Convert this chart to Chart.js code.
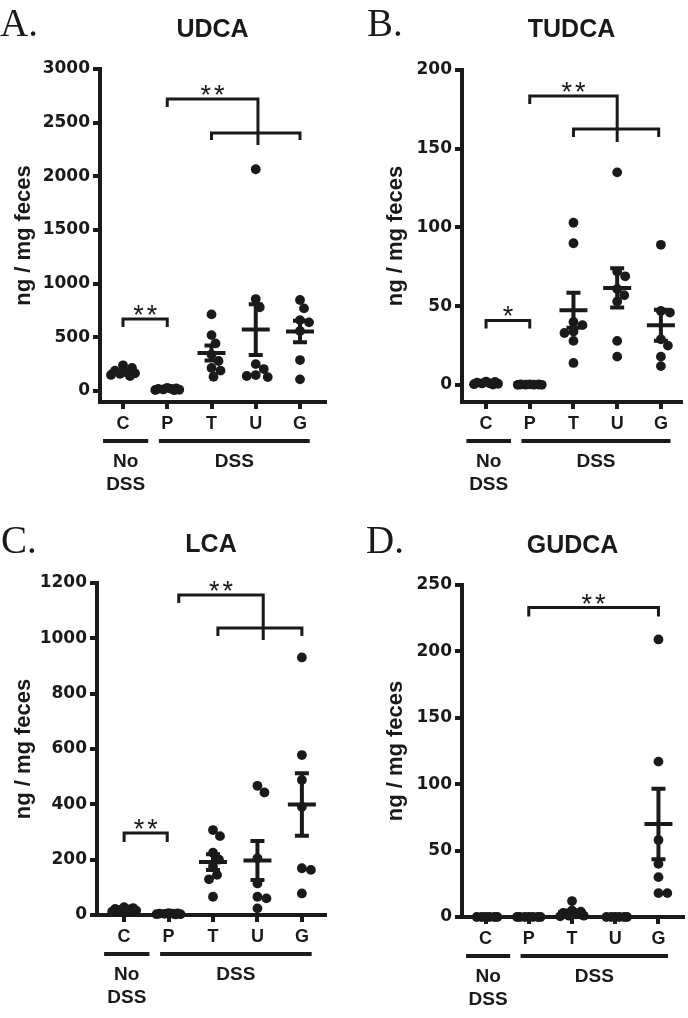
<!DOCTYPE html>
<html>
<head>
<meta charset="utf-8">
<script src="https://cdn.jsdelivr.net/npm/chart.js@4.4.0/dist/chart.umd.min.js"></script>
<style>
  html, body { margin: 0; padding: 0; background: #fff; }
  #fig { position: relative; width: 688px; height: 1018px; overflow: hidden; }
  #fig canvas { position: absolute; }
  .letter { position: absolute; font-family: 'Liberation Serif', 'Times New Roman', serif; font-size: 39px; line-height: 39px; color: #1a1a1a; }
</style>
</head>
<body>
<div id="fig">
  <canvas id="chartA" width="344" height="500" style="left:0;top:0"></canvas>
  <canvas id="chartB" width="344" height="500" style="left:344px;top:0"></canvas>
  <canvas id="chartC" width="344" height="518" style="left:0;top:500px"></canvas>
  <canvas id="chartD" width="344" height="518" style="left:344px;top:500px"></canvas>
  <div class="letter" style="left:0;top:3px">A.</div>
  <div class="letter" style="left:367px;top:3px">B.</div>
  <div class="letter" style="left:1px;top:520px">C.</div>
  <div class="letter" style="left:366px;top:520px">D.</div>
</div>
<script>
const ink = '#1a1a1a';
const categories = ['C', 'P', 'T', 'U', 'G'];

// UDCA (ng / mg feces)
const udcaC = [240, 215, 190, 175, 165, 160, 150, 140];
const udcaP = [30, 25, 20, 20, 15, 12, 10, 8];
const udcaT = [714, 521, 444, 340, 280, 215, 190, 133];
const udcaU = [2066, 857, 780, 251, 205, 149, 140, 130];
const udcaG = [848, 770, 661, 640, 560, 289, 109];
const udcaTicks = [0, 500, 1000, 1500, 2000, 2500, 3000];

// TUDCA
const tudcaC = [2.2, 2, 1.5, 1, 1, 0.8, 0.5, 0.3];
const tudcaP = [0.4, 0.3, 0.3, 0.2, 0.2, 0.1, 0.1];
const tudcaT = [103, 90, 40, 38, 34, 33, 28, 14];
const tudcaU = [135, 72, 69, 61, 57, 53, 28, 18];
const tudcaG = [89, 47, 46, 29, 25, 18, 12];
const tudcaTicks = [0, 50, 100, 150, 200];

// LCA
const lcaC = [28, 25, 22, 20, 18, 16, 15, 12];
const lcaP = [7, 6, 5, 5, 4, 3, 3, 2];
const lcaT = [307, 285, 225, 200, 175, 145, 129, 66];
const lcaU = [467, 443, 205, 114, 66, 60, 24];
const lcaG = [931, 578, 488, 391, 169, 163, 78];
const lcaTicks = [0, 200, 400, 600, 800, 1000, 1200];

// GUDCA
const gudcaC = [0, 0, 0, 0, 0, 0];
const gudcaP = [0, 0, 0, 0, 0, 0, 0];
const gudcaT = [12, 5, 4, 3, 2, 1, 1, 0.5];
const gudcaU = [0, 0, 0, 0, 0, 0];
const gudcaG = [209, 117, 58, 40, 30, 18, 18];
const gudcaTicks = [0, 50, 100, 150, 200, 250];

// group bars under the axis (No DSS / DSS)
const groupNames = [['No', 'DSS'], ['DSS']];
const groupSpans = [[0.55, 1.57], [1.81, 5.22]];

function mean(a) { return a.reduce((s, v) => s + v, 0) / a.length; }
function sem(a) {
  const m = mean(a);
  const sd = Math.sqrt(a.reduce((s, v) => s + (v - m) * (v - m), 0) / (a.length - 1));
  return sd / Math.sqrt(a.length);
}

// simple beeswarm: horizontal offsets (category units) so dots don't stack
function swarmOffsets(values, pxPerUnit, pxPerCat) {
  const minDist = 9, cap = 12;
  const order = values.map((v, i) => i).sort((a, b) => values[b] - values[a]);
  const placed = [];
  const dxs = new Array(values.length).fill(0);
  order.forEach(i => {
    const py = values[i] * pxPerUnit;
    let best = 0, bestScore = -1;
    for (let k = 0; k <= 2 * cap; k++) {
      const dx = k === 0 ? 0 : (k % 2 ? (k + 1) / 2 : -k / 2);
      let dmin = Infinity;
      placed.forEach(p => { dmin = Math.min(dmin, Math.hypot(dx - p.dx, py - p.py)); });
      if (dmin >= minDist) { best = dx; break; }
      if (dmin > bestScore) { bestScore = dmin; best = dx; }
    }
    placed.push({ dx: best, py });
    dxs[i] = best / pxPerCat;
  });
  return dxs;
}

const annotate = {
  id: 'annotate',
  afterDatasetsDraw(chart) {
    const { ctx, scales: { x, y } } = chart;
    const groups = chart.options.plugins.annotate.groups;
    ctx.save();
    ctx.strokeStyle = ink;
    ctx.lineWidth = 4;
    ctx.lineCap = 'butt';
    groups.forEach((vals, i) => {
      const cx = x.getPixelForValue(i + 1);
      const m = mean(vals), s = sem(vals);
      const ym = y.getPixelForValue(m);
      const yt = y.getPixelForValue(m + s);
      const yb = y.getPixelForValue(m - s);
      ctx.beginPath();
      ctx.moveTo(cx - 14, ym); ctx.lineTo(cx + 14, ym);
      if (s > 0) {
        ctx.moveTo(cx, yt); ctx.lineTo(cx, yb);
        ctx.moveTo(cx - 7, yt); ctx.lineTo(cx + 7, yt);
        ctx.moveTo(cx - 7, yb); ctx.lineTo(cx + 7, yb);
      }
      ctx.stroke();
    });
    ctx.restore();
  },
  afterDraw(chart) {
    const { ctx, chartArea, scales: { x, y } } = chart;
    const o = chart.options.plugins.annotate;
    ctx.save();
    ctx.fillStyle = ink;
    ctx.strokeStyle = ink;

    // title
    ctx.font = 'bold 25px "Liberation Sans", Arial, sans-serif';
    ctx.textAlign = 'center';
    ctx.textBaseline = 'alphabetic';
    ctx.fillText(o.title, (chartArea.left + chartArea.right) / 2, o.titleBaseline);

    // significance brackets
    ctx.lineWidth = 3;
    o.brackets.forEach(b => {
      const x1 = x.getPixelForValue(b.x1), x2 = x.getPixelForValue(b.x2);
      const yy = y.getPixelForValue(b.y);
      ctx.beginPath();
      ctx.moveTo(x1, yy + b.leg1);
      ctx.lineTo(x1, yy);
      ctx.lineTo(x2, yy);
      ctx.lineTo(x2, yy + b.leg2);
      ctx.stroke();
      if (b.text) {
        ctx.font = '27px "Liberation Sans", Arial, sans-serif';
        ctx.letterSpacing = '3px';
        ctx.textAlign = 'center';
        ctx.textBaseline = 'alphabetic';
        ctx.fillText(b.text, (x1 + x2) / 2 + 1.5, yy + 5);
        ctx.letterSpacing = '0px';
      }
    });

    // group bars and labels
    const base = chartArea.bottom;
    ctx.lineWidth = 4;
    ctx.font = 'bold 19px "Liberation Sans", Arial, sans-serif';
    ctx.textAlign = 'center';
    ctx.textBaseline = 'middle';
    groupSpans.forEach((span, i) => {
      const a = x.getPixelForValue(span[0]), b = x.getPixelForValue(span[1]);
      ctx.beginPath();
      ctx.moveTo(a, base + 39); ctx.lineTo(b, base + 39);
      ctx.stroke();
      groupNames[i].forEach((t, j) => ctx.fillText(t, (a + b) / 2, base + 60 + j * 23));
    });
    ctx.restore();
  }
};

function makePanel(id, p) {
  const canvas = document.getElementById(id);
  const plotW = canvas.width - p.axisW - p.right;
  const plotH = canvas.height - p.top - p.axisH;
  const pxPerUnit = plotH / (p.yMax - p.yMin);
  const pxPerCat = plotW / (p.xMax - p.xMin);

  const points = [];
  p.groups.forEach((vals, i) => {
    const dxs = swarmOffsets(vals, pxPerUnit, pxPerCat);
    vals.forEach((v, k) => points.push({ x: i + 1 + dxs[k], y: v }));
  });

  return new Chart(canvas, {
    type: 'scatter',
    data: {
      datasets: [{
        data: points,
        pointRadius: 4.9,
        pointBackgroundColor: ink,
        pointBorderWidth: 0,
        clip: false
      }]
    },
    options: {
      responsive: false,
      animation: false,
      layout: { padding: { top: p.top, right: p.right, left: 0, bottom: 0 } },
      scales: {
        x: {
          type: 'linear',
          min: p.xMin,
          max: p.xMax,
          afterBuildTicks: s => { s.ticks = categories.map((c, i) => ({ value: i + 1 })); },
          afterFit: s => { s.height = p.axisH; },
          ticks: {
            autoSkip: false, maxRotation: 0, minRotation: 0, padding: 4,
            color: ink,
            font: { family: '"Liberation Sans", Arial, sans-serif', size: 18, weight: 'bold' },
            callback: v => categories[v - 1] || ''
          },
          grid: { drawOnChartArea: false, drawTicks: true, tickLength: 7, color: ink, lineWidth: 4 },
          border: { display: true, color: ink, width: 4 }
        },
        y: {
          min: p.yMin,
          max: p.yMax,
          afterBuildTicks: s => { s.ticks = p.ticks.map(v => ({ value: v })); },
          afterFit: s => { s.width = p.axisW; },
          ticks: {
            padding: 3,
            color: ink,
            font: { family: '"DejaVu Sans", sans-serif', size: 17, weight: 'bold' },
            callback: v => String(v)
          },
          grid: { drawOnChartArea: false, drawTicks: true, tickLength: 7, color: ink, lineWidth: 4 },
          border: { display: true, color: ink, width: 4 },
          title: {
            display: true,
            text: 'ng / mg feces',
            color: ink,
            padding: { top: p.titlePad, bottom: 0 },
            font: { family: '"Liberation Sans", Arial, sans-serif', size: 22, weight: 'bold' }
          }
        }
      },
      plugins: {
        legend: { display: false },
        tooltip: { enabled: false },
        annotate: {
          title: p.title,
          titleBaseline: p.titleBaseline,
          groups: p.groups,
          brackets: p.brackets
        }
      }
    },
    plugins: [annotate]
  });
}

makePanel('chartA', {
  title: 'UDCA', titleBaseline: 37,
  groups: [udcaC, udcaP, udcaT, udcaU, udcaG], ticks: udcaTicks,
  yMin: -102, yMax: 3000, xMin: 0.48, xMax: 5.565,
  top: 69, axisW: 100, right: 19, axisH: 98, titlePad: 11,
  brackets: [
    { x1: 2, x2: 4.05, y: 2720, leg1: 8, leg2: 46, text: '**' },
    { x1: 3, x2: 5, y: 2404, leg1: 7, leg2: 7 },
    { x1: 1, x2: 2, y: 671, leg1: 8, leg2: 8, text: '**' }
  ]
});

makePanel('chartB', {
  title: 'TUDCA', titleBaseline: 37,
  groups: [tudcaC, tudcaP, tudcaT, tudcaU, tudcaG], ticks: tudcaTicks,
  yMin: -10.8, yMax: 200, xMin: 0.45, xMax: 5.46,
  top: 70, axisW: 118, right: 7, axisH: 98, titlePad: 39,
  brackets: [
    { x1: 2, x2: 4, y: 183.5, leg1: 8, leg2: 46, text: '**' },
    { x1: 3, x2: 4.95, y: 162.5, leg1: 8, leg2: 8 },
    { x1: 1, x2: 2, y: 41, leg1: 8, leg2: 8, text: '*' }
  ]
});

makePanel('chartC', {
  title: 'LCA', titleBaseline: 52,
  groups: [lcaC, lcaP, lcaT, lcaU, lcaG], ticks: lcaTicks,
  yMin: 0, yMax: 1200, xMin: 0.39, xMax: 5.52,
  top: 83, axisW: 97, right: 19, axisH: 103, titlePad: 11,
  brackets: [
    { x1: 2.23, x2: 4.13, y: 1157, leg1: 8, leg2: 45, text: '**' },
    { x1: 3.11, x2: 5, y: 1037, leg1: 8, leg2: 8 },
    { x1: 1, x2: 1.97, y: 296, leg1: 9, leg2: 9, text: '**' }
  ]
});

makePanel('chartD', {
  title: 'GUDCA', titleBaseline: 53,
  groups: [gudcaC, gudcaP, gudcaT, gudcaU, gudcaG], ticks: gudcaTicks,
  yMin: 0, yMax: 250, xMin: 0.455, xMax: 5.57,
  top: 85, axisW: 118, right: 1, axisH: 101, titlePad: 39,
  brackets: [
    { x1: 2, x2: 5, y: 233, leg1: 9, leg2: 9, text: '**' }
  ]
});
</script>
</body>
</html>
